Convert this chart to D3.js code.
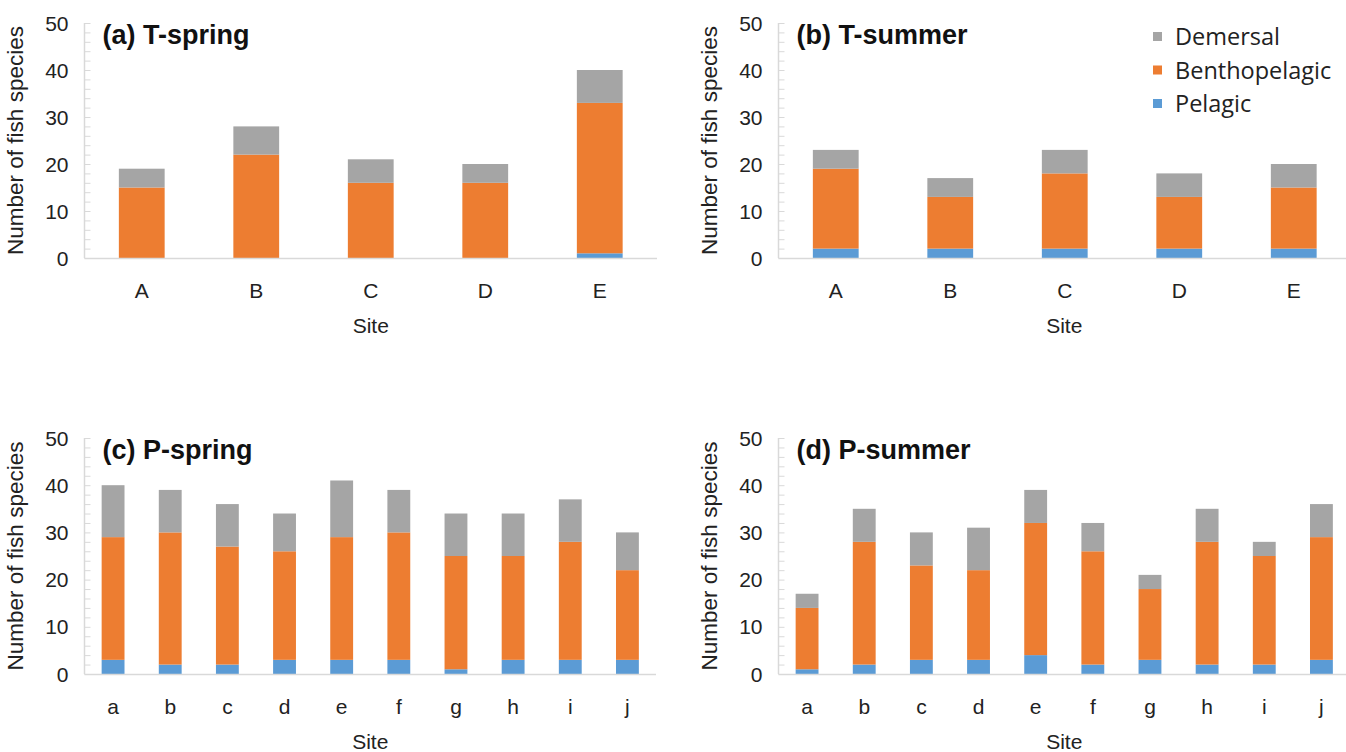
<!DOCTYPE html>
<html>
<head>
<meta charset="utf-8">
<script src="https://cdn.jsdelivr.net/npm/d3@7"></script>
<style>
  html, body { margin: 0; padding: 0; background: #fff; }
  svg { display: block; }
</style>
</head>
<body>
<svg id="chart" width="1346" height="752"></svg>
<script>
// ---------------- DATA ----------------
const sitesT = ["A", "B", "C", "D", "E"];
const sitesP = ["a", "b", "c", "d", "e", "f", "g", "h", "i", "j"];
const seriesNames = ["Pelagic", "Benthopelagic", "Demersal"];
const legendOrder = ["Demersal", "Benthopelagic", "Pelagic"];
const yTicks = [0, 10, 20, 30, 40, 50];

// T-spring
const tSpringPelagic = [0, 0, 0, 0, 1];
const tSpringBentho  = [15, 22, 16, 16, 32];
const tSpringDemersal = [4, 6, 5, 4, 7];
// T-summer
const tSummerPelagic = [2, 2, 2, 2, 2];
const tSummerBentho  = [17, 11, 16, 11, 13];
const tSummerDemersal = [4, 4, 5, 5, 5];
// P-spring
const pSpringPelagic = [3, 2, 2, 3, 3, 3, 1, 3, 3, 3];
const pSpringBentho  = [26, 28, 25, 23, 26, 27, 24, 22, 25, 19];
const pSpringDemersal = [11, 9, 9, 8, 12, 9, 9, 9, 9, 8];
// P-summer
const pSummerPelagic = [1, 2, 3, 3, 4, 2, 3, 2, 2, 3];
const pSummerBentho  = [13, 26, 20, 19, 28, 24, 15, 26, 23, 26];
const pSummerDemersal = [3, 7, 7, 9, 7, 6, 3, 7, 3, 7];

const panelTitles = ["(a) T-spring", "(b) T-summer", "(c) P-spring", "(d) P-summer"];
const yTitle = "Number of fish species";
const xTitle = "Site";

// ---------------- STYLE / LAYOUT ----------------
const colors = { Pelagic: "#5B9BD5", Benthopelagic: "#ED7D31", Demersal: "#A5A5A5" };
const axisColor = "#D9D9D9";
const font = "'Liberation Sans', Arial, sans-serif";

const panels = [
  { title: panelTitles[0], sites: sitesT, pel: tSpringPelagic, ben: tSpringBentho, dem: tSpringDemersal,
    x0: 84.5, x1: 657, yTop: 23, yBot: 258 },
  { title: panelTitles[1], sites: sitesT, pel: tSummerPelagic, ben: tSummerBentho, dem: tSummerDemersal,
    x0: 778.5, x1: 1351, yTop: 23, yBot: 258 },
  { title: panelTitles[2], sites: sitesP, pel: pSpringPelagic, ben: pSpringBentho, dem: pSpringDemersal,
    x0: 84.5, x1: 656, yTop: 438, yBot: 674 },
  { title: panelTitles[3], sites: sitesP, pel: pSummerPelagic, ben: pSummerBentho, dem: pSummerDemersal,
    x0: 778.5, x1: 1350, yTop: 438, yBot: 674 }
];

const svg = d3.select("#chart");

panels.forEach(p => {
  const g = svg.append("g");
  const x = d3.scaleBand().domain(p.sites).range([p.x0, p.x1]).paddingInner(0.6).paddingOuter(0.3);
  const y = d3.scaleLinear().domain([0, 50]).range([p.yBot, p.yTop]);

  const rows = p.sites.map((s, i) => ({ site: s, Pelagic: p.pel[i], Benthopelagic: p.ben[i], Demersal: p.dem[i] }));
  const stacked = d3.stack().keys(seriesNames)(rows);

  // minor ticks (inside, every 2)
  const minor = d3.range(0, 51, 2);
  g.selectAll("line.minor").data(minor).enter().append("line")
    .attr("x1", p.x0).attr("x2", p.x0 + 6)
    .attr("y1", d => y(d) + 0.5).attr("y2", d => y(d) + 0.5)
    .attr("stroke", axisColor).attr("stroke-width", 1);

  // y axis line
  g.append("line").attr("x1", p.x0).attr("x2", p.x0)
    .attr("y1", y(50)).attr("y2", y(0))
    .attr("stroke", axisColor).attr("stroke-width", 1.5);

  // y tick labels
  g.selectAll("text.ytick").data(yTicks).enter().append("text")
    .attr("x", p.x0 - 16).attr("y", d => y(d))
    .attr("dy", "0.36em")
    .attr("text-anchor", "end")
    .attr("font-family", font).attr("font-size", 21).attr("fill", "#222")
    .text(d => d);

  // bars
  stacked.forEach(layer => {
    g.selectAll(null).data(layer).enter().append("rect")
      .attr("x", d => x(d.data.site))
      .attr("width", x.bandwidth())
      .attr("y", d => y(d[1]))
      .attr("height", d => y(d[0]) - y(d[1]))
      .attr("fill", colors[layer.key]);
  });

  // x axis line
  g.append("line").attr("x1", p.x0).attr("x2", p.x1)
    .attr("y1", y(0) + 0.5).attr("y2", y(0) + 0.5)
    .attr("stroke", axisColor).attr("stroke-width", 1.5);

  // x tick labels
  g.selectAll("text.xtick").data(p.sites).enter().append("text")
    .attr("x", d => x(d) + x.bandwidth() / 2)
    .attr("y", p.yBot + 40)
    .attr("text-anchor", "middle")
    .attr("font-family", font).attr("font-size", 21).attr("fill", "#222")
    .text(d => d);

  // x title
  g.append("text")
    .attr("x", (p.x0 + Math.min(p.x1, 1346)) / 2 - (p.x1 > 1346 ? -2 : 0))
    .attr("y", p.yBot + 75)
    .attr("text-anchor", "middle")
    .attr("font-family", font).attr("font-size", 21).attr("fill", "#222")
    .text(xTitle);

  // y title
  g.append("text")
    .attr("transform", `translate(${p.x0 - 62},${(p.yTop + p.yBot) / 2}) rotate(-90)`)
    .attr("text-anchor", "middle")
    .attr("font-family", font).attr("font-size", 22.5).attr("fill", "#222")
    .text(yTitle);

  // panel title
  g.append("text")
    .attr("x", p.x0 + 18).attr("y", p.yTop + 21)
    .attr("font-family", font).attr("font-size", 27).attr("font-weight", "bold").attr("fill", "#111")
    .text(p.title);
});

// legend (in panel b)
const legend = svg.append("g");
legendOrder.forEach((name, i) => {
  const ly = 37 + i * 33.5;
  legend.append("rect").attr("x", 1153).attr("y", ly - 5).attr("width", 9).attr("height", 9)
    .attr("fill", colors[name]);
  legend.append("text").attr("x", 1175).attr("y", ly).attr("dy", "0.35em")
    .attr("font-family", "'Open Sans', 'Noto Sans', sans-serif").attr("font-size", 23.5).attr("fill", "#222")
    .text(name);
});
</script>
</body>
</html>
